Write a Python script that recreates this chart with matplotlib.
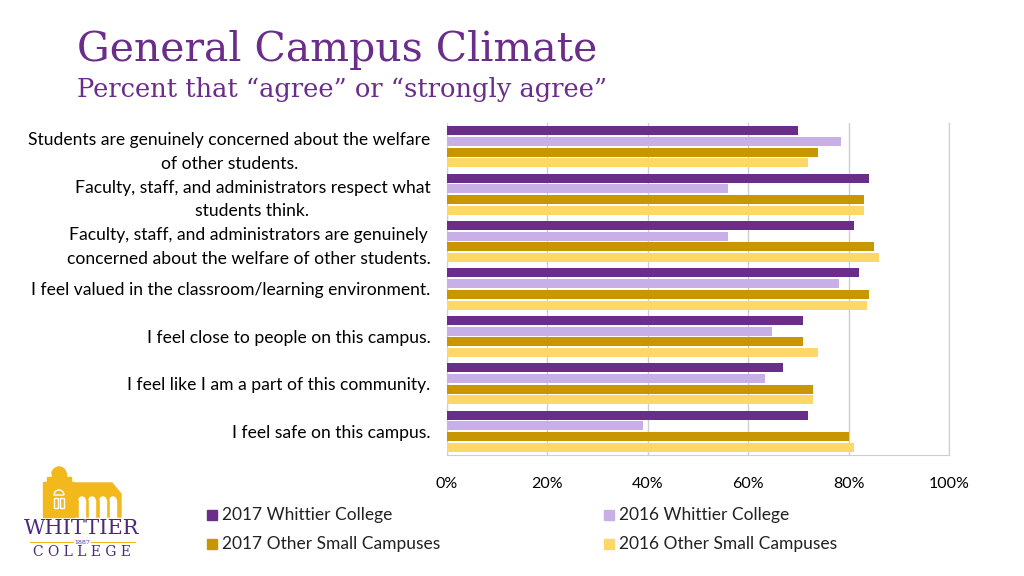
import matplotlib.pyplot as plt
from matplotlib.patches import Rectangle, Polygon, Wedge
from matplotlib.ticker import FuncFormatter

categories = [
    "Students are genuinely concerned about the welfare\nof other students.",
    "Faculty, staff, and administrators respect what\nstudents think.",
    "Faculty, staff, and administrators are genuinely\nconcerned about the welfare of other students.",
    "I feel valued in the classroom/learning environment.",
    "I feel close to people on this campus.",
    "I feel like I am a part of this community.",
    "I feel safe on this campus.",
]
series_names = ["2017 Whittier College", "2016 Whittier College",
                "2017 Other Small Campuses", "2016 Other Small Campuses"]
whittier_2017 = [70, 84, 81, 82, 71, 67, 72]
whittier_2016 = [78.5, 56, 56, 78, 64.7, 63.3, 39]
others_2017 = [74, 83, 85, 84, 71, 73, 80]
others_2016 = [72, 83, 86, 83.7, 74, 73, 81]
x_ticks = [0, 20, 40, 60, 80, 100]

colors = ["#6B2D8A", "#C8B0E6", "#C89600", "#FDD869"]
purple = "#6B2D8A"
label_font = "Lato"

fig = plt.figure(figsize=(10.24, 5.76), dpi=100)

# main chart
ax = fig.add_axes([447/1024, 1 - 455/576, 502/1024, 332/576])
series = [whittier_2017, whittier_2016, others_2017, others_2016]
pitch = 0.226
for i, vals in enumerate(series):
    offs = (i - 1.5) * pitch
    ax.barh([k + offs for k in range(len(categories))], vals, height=0.19,
            color=colors[i], zorder=3)

ax.set_xlim(0, 100)
ax.set_ylim(6.5, -0.5)
ax.set_xticks(x_ticks)
ax.xaxis.set_major_formatter(FuncFormatter(lambda v, p: f"{v:.0f}%"))
ax.set_yticks(range(len(categories)))
ax.set_yticklabels(categories, fontsize=12.6, family=label_font,
                   multialignment="center", linespacing=1.6)
ax.tick_params(axis="y", length=0, pad=12)
ax.tick_params(axis="x", length=0, pad=16, labelsize=11.5)
for lab in ax.get_xticklabels():
    lab.set_family(label_font)
ax.grid(axis="x", color="#CFCFCF", linewidth=1, zorder=0)
ax.spines["top"].set_visible(False)
for s in ["left", "right", "bottom"]:
    ax.spines[s].set_color("#CFCFCF")

# title
fig.text(77/1024, 1 - 61/576, "General Campus Climate", family="DejaVu Serif",
         fontsize=29.5, color=purple, va="baseline")
fig.text(77/1024, 1 - 97/576, "Percent that \u201cagree\u201d or \u201cstrongly agree\u201d",
         family="DejaVu Serif", fontsize=18.5, color=purple, va="baseline")

# legend
leg_pos = [(212, 515), (609, 515), (212, 544), (609, 544)]
for (px, py), name, c in zip(leg_pos, series_names, colors):
    fig.patches.append(Rectangle(((px - 5)/1024, 1 - (py + 5)/576), 10/1024, 10/576,
                                 transform=fig.transFigure, color=c))
    fig.text((px + 10)/1024, 1 - py/576, name, family=label_font, fontsize=12.5,
             va="center", color="#222222")

# logo
lg = fig.add_axes([0, 0, 200/1024, 116/576])
lg.set_xlim(0, 200)
lg.set_ylim(576, 460)
lg.axis("off")
gold = "#F2B81C"
lg.add_patch(Polygon([(43, 517), (43, 482), (47, 482), (47, 477), (52, 477),
                      (52, 473), (66, 473), (66, 477), (71, 477), (71, 482),
                      (74, 482), (74, 517)], color=gold))
lg.add_patch(Wedge((59, 474), 7, 180, 360, color=gold))
lg.add_patch(Polygon([(74, 483), (112, 483), (121, 494), (121, 517), (74, 517)], color=gold))
lg.add_patch(Wedge((59, 495), 5, 180, 360, facecolor="none", edgecolor="white", lw=1))
lg.add_patch(Rectangle((54, 498), 4, 10, facecolor="none", edgecolor="white", lw=1))
lg.add_patch(Rectangle((60, 498), 4, 10, facecolor="none", edgecolor="white", lw=1))
for wx in [79, 89, 100, 110]:
    lg.add_patch(Rectangle((wx, 500), 6, 17, color="white"))
    lg.add_patch(Wedge((wx + 3, 500), 3, 180, 360, color="white"))
lg.text(82, 528, "WHITTIER", family="DejaVu Serif", fontsize=15, color="#4B2A7B",
        ha="center", va="center")
lg.plot([30, 73], [542, 542], color=gold, lw=0.8)
lg.plot([91, 135], [542, 542], color=gold, lw=0.8)
lg.text(82, 542.5, "1887", family="DejaVu Serif", fontsize=4.5, color="#4B2A7B",
        ha="center", va="center")
lg.text(82, 552.5, "C O L L E G E", family="DejaVu Serif", fontsize=10, color="#4B2A7B",
        ha="center", va="center")

fig.savefig("out.png", dpi=100)
